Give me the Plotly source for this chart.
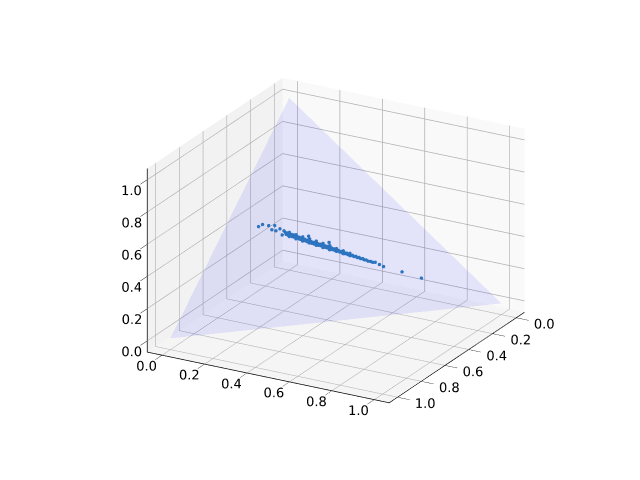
import plotly.graph_objects as go

# simplex corners for the plane
plane_x = [1, 0, 0]
plane_y = [0, 1, 0]
plane_z = [0, 0, 1]

# points
pts_x = [.4456, .4289, .4152, .3987, .4183, .4101, .3934, .4049, .3881, .389,
         .392, .384, .389, .382, .386, .378, .383, .374, .379, .372, .375, .368, .372, .365, .369,
         .362, .365, .358, .362, .355, .358, .351, .355, .347, .351, .344, .347, .340, .343, .336,
         .339, .332, .335, .327, .330, .324, .326, .319, .322, .315, .318, .311, .314, .307, .309,
         .303, .305, .299, .300, .295, .296, .290, .291, .285, .286, .280, .281, .275, .276, .270,
         .270, .264, .264, .258, .258, .252, .251, .246, .244, .238, .235, .228,
         .2981, .2228, .2174, .182, .1467, .3362,
         .378, .390, .366, .378, .354, .366, .341, .353, .329, .341,
         .317, .329, .305, .317, .295, .303, .283, .291, .272, .278]
pts_y = [.1047, .1142, .1354, .1548, .1521, .1668, .1763, .1932, .1927, .200,
         .205, .208, .212, .215, .219, .222, .226, .229, .233, .236, .240, .244, .247, .251, .255,
         .258, .262, .266, .270, .273, .277, .281, .285, .289, .293, .297, .301, .305, .309, .313,
         .317, .321, .325, .329, .333, .337, .341, .346, .350, .354, .358, .363, .367, .371, .376,
         .380, .385, .389, .394, .398, .403, .408, .413, .418, .423, .428, .433, .438, .444, .450,
         .456, .462, .468, .474, .480, .487, .494, .501, .509, .517, .525, .533,
         .3545, .5498, .5663, .6334, .705, .2792,
         .212, .218, .237, .243, .262, .268, .287, .293, .312, .318,
         .337, .343, .362, .368, .388, .392, .413, .417, .438, .442]
pts_z = [.4497, .4569, .4494, .4465, .4296, .4231, .4303, .4019, .4192, .411,
         .403, .408, .399, .403, .395, .400, .391, .397, .388, .392, .385, .388, .381, .384, .376,
         .380, .373, .376, .368, .372, .365, .368, .360, .364, .356, .359, .352, .355, .348, .351,
         .344, .347, .340, .344, .337, .339, .333, .335, .328, .331, .324, .326, .319, .322, .315,
         .317, .310, .312, .306, .307, .301, .302, .296, .297, .291, .292, .286, .287, .280, .280,
         .274, .274, .268, .268, .262, .261, .255, .253, .247, .245, .240, .239,
         .3474, .2274, .2163, .1846, .148, .3846,
         .410, .392, .397, .379, .384, .366, .372, .354, .359, .341,
         .346, .328, .333, .315, .317, .305, .304, .292, .290, .280]

tick_vals = [0.0, 0.2, 0.4, 0.6, 0.8, 1.0]

fig = go.Figure()
fig.add_trace(go.Mesh3d(x=plane_x, y=plane_y, z=plane_z, i=[0], j=[1], k=[2],
                        color="blue", opacity=0.09, flatshading=True,
                        lighting=dict(ambient=1, diffuse=0, specular=0, roughness=1, fresnel=0),
                        hoverinfo="skip"))
fig.add_trace(go.Scatter3d(x=pts_x, y=pts_y, z=pts_z, mode="markers",
                           marker=dict(size=2, color="#2d74c0", line=dict(width=0))))


def axis(bg):
    return dict(range=[-0.07, 1.07], tickvals=tick_vals, tickformat=".1f", title=dict(text=""),
                tickangle=0,
                showgrid=True, gridcolor="#b0b0b0", gridwidth=1.5,
                showbackground=True, backgroundcolor=bg, zeroline=False,
                showline=True, linecolor="black", linewidth=1.5,
                ticks="outside", ticklen=14, tickcolor="black", tickwidth=1,
                tickfont=dict(family="DejaVu Sans", size=12.5, color="black"),
                showspikes=False)


fig.update_layout(
    width=640, height=480, margin=dict(l=0, r=0, t=0, b=0), showlegend=False,
    paper_bgcolor="white",
    scene=dict(
        domain=dict(x=[0, 1], y=[0, 1]),
        xaxis=axis("#f9f9f9"), yaxis=axis("#f2f2f2"), zaxis=axis("#f5f5f5"),
        aspectmode="manual", aspectratio=dict(x=1.155, y=1.155, z=0.825),
        camera=dict(eye=dict(x=1.64, y=0.88, z=0.717), center=dict(x=0.03, y=-0.021, z=-0.028),
                    up=dict(x=0, y=0, z=1), projection=dict(type="orthographic")),
    ),
)

fig.write_html("out.html")
